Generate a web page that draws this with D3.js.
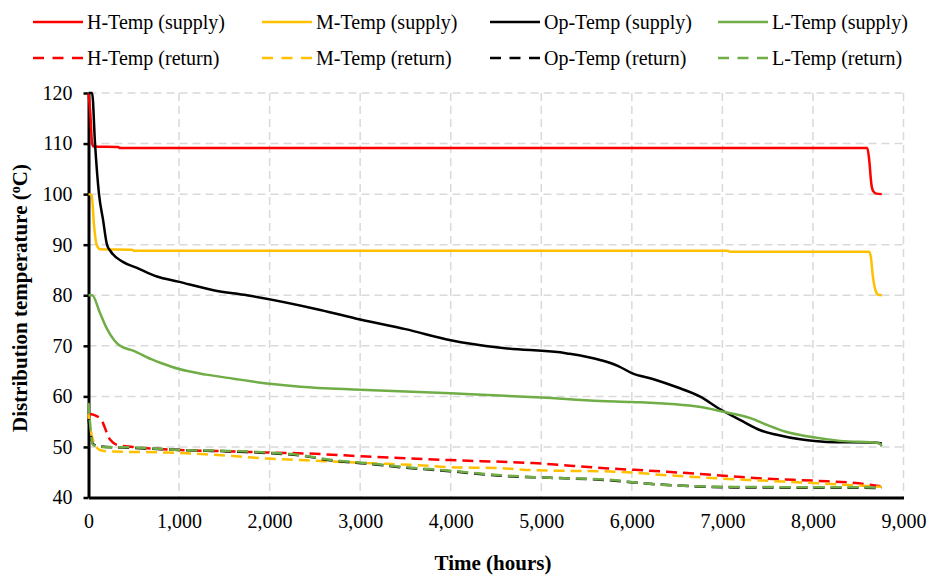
<!DOCTYPE html>
<html>
<head>
<meta charset="utf-8">
<script src="https://cdn.jsdelivr.net/npm/d3@7"></script>
<style>
	body { margin: 0; background: #fff; }
	svg { display: block; font-family: "Liberation Serif", "Times New Roman", serif; }
</style>
</head>
<body>
<svg id="chart" width="931" height="576"></svg>
<script>
// series data: [hours, temperature]
var hTempSupply = [[0,120],[20,116],[40,110],[60,109.4],[330,109.3],[345,109.1],[8600,109.1],[8620,107],[8645,102],[8665,100.6],[8700,100.1],[8760,100]];
var mTempSupply = [[0,100],[35,99.8],[60,94],[90,90],[130,89.1],[480,89.0],[500,88.8],[7060,88.8],[7080,88.6],[8620,88.6],[8640,87.5],[8660,84],[8690,81],[8720,80.1],[8760,80]];
var opTempSupply = [[0,120],[40,120],[72,110],[116,100],[160,95],[204,90],[240,88.8],[380,86.6],[535,85.4],[755,83.7],[990,82.7],[1380,81.0],[1750,80],[2560,77.1],[3000,75.2],[3500,73.3],[4000,71.1],[4550,69.6],[5285,68.5],[5650,67.2],[5850,66],[6000,64.6],[6240,63.4],[6500,61.8],[6760,59.9],[6960,57.6],[7200,55.3],[7420,53.3],[7600,52.4],[7860,51.5],[8150,51.0],[8670,50.9],[8760,50.7]];
var lTempSupply = [[0,80],[40,80],[127,76.5],[200,73.5],[280,71.2],[340,70.1],[500,69],[700,67.3],[800,66.6],[1000,65.4],[1300,64.3],[1600,63.5],[2000,62.5],[2340,61.9],[3000,61.3],[4000,60.6],[5000,59.8],[5650,59.1],[6000,58.9],[6760,57.9],[7000,57.0],[7310,55.7],[7500,54.3],[7700,53.0],[7970,52.0],[8300,51.2],[8720,50.8],[8740,50.6],[8760,50.1]];
var hTempReturn = [[0,56.6],[127,55.7],[240,51.4],[315,50.4],[490,50.0],[1010,49.4],[1600,49.1],[1970,48.9],[2410,48.7],[3075,48.1],[3990,47.4],[4910,46.8],[5700,45.8],[6390,45.1],[7010,44.3],[7500,43.7],[8050,43.3],[8500,42.8],[8760,42.2]];
var mTempReturn = [[0,56.5],[40,52],[127,49.4],[240,49.1],[860,48.9],[1600,48.2],[1970,47.7],[2340,47.4],[2700,47.1],[3075,46.8],[3630,46.4],[3990,46.0],[4550,45.8],[4910,45.4],[5840,45.1],[6390,44.4],[6940,43.8],[7500,43.3],[8050,42.8],[8760,42.1]];
var opTempReturn = [[0,55.5],[50,50.6],[127,50.1],[490,49.8],[1010,49.4],[1600,49.1],[1970,48.8],[2340,48.3],[2700,47.3],[3075,46.7],[3440,46.0],[3990,45.2],[4550,44.3],[5100,43.9],[5760,43.4],[6130,42.8],[6570,42.3],[7120,42.0],[8760,41.9]];
var lTempReturn = [[0,58.7],[50,50.4],[127,50.0],[490,49.9],[1010,49.4],[1600,49.2],[1970,48.9],[2340,48.4],[2700,47.4],[3075,46.8],[3440,46.1],[3990,45.3],[4550,44.4],[5100,43.9],[5760,43.5],[6130,42.8],[6570,42.3],[7120,42.1],[8760,42.0]];

var seriesNames = ["H-Temp (supply)", "M-Temp (supply)", "Op-Temp (supply)", "L-Temp (supply)",
	"H-Temp (return)", "M-Temp (return)", "Op-Temp (return)", "L-Temp (return)"];
var seriesData = [hTempSupply, mTempSupply, opTempSupply, lTempSupply,
	hTempReturn, mTempReturn, opTempReturn, lTempReturn];

var xTicks = [0, 1000, 2000, 3000, 4000, 5000, 6000, 7000, 8000, 9000];
var yTicks = [40, 50, 60, 70, 80, 90, 100, 110, 120];

var colors = ["#ff0000", "#ffc000", "#000000", "#70ad47"];

var svg = d3.select("#chart");

var x = d3.scaleLinear().domain([0, 9000]).range([88.5, 903.5]);
var y = d3.scaleLinear().domain([40, 120]).range([497.5, 93]);

// grid
var grid = svg.append("g")
	.attr("stroke", "#d9d9d9")
	.attr("stroke-width", 1.5)
	.attr("stroke-dasharray", "8,5");

grid.selectAll(".vgrid")
	.data(xTicks.slice(1))
	.enter().append("line")
	.attr("x1", d => x(d)).attr("x2", d => x(d))
	.attr("y1", y(120)).attr("y2", y(40));

grid.selectAll(".hgrid")
	.data(yTicks.slice(1))
	.enter().append("line")
	.attr("x1", x(0)).attr("x2", x(9000))
	.attr("y1", d => y(d)).attr("y2", d => y(d));

// axes
var xAxis = d3.axisBottom(x)
	.tickValues(xTicks)
	.tickFormat(d3.format(","))
	.tickSize(0)
	.tickPadding(16);

var yAxis = d3.axisLeft(y)
	.tickValues(yTicks)
	.tickSizeInner(5)
	.tickSizeOuter(0)
	.tickPadding(11);

var gy = svg.append("g")
	.attr("transform", "translate(" + x(0) + ",0)")
	.call(yAxis);

var gx = svg.append("g")
	.attr("transform", "translate(0," + y(40) + ")")
	.call(xAxis);

[gx, gy].forEach(function(g) {
	g.select(".domain").attr("stroke", "#000").attr("stroke-width", 3);
	g.selectAll(".tick line").attr("stroke", "#000").attr("stroke-width", 2.5);
	g.selectAll("text")
		.attr("font-family", "Liberation Serif, Times New Roman, serif")
		.attr("font-size", 20)
		.attr("fill", "#000");
});

// lines
var line = d3.line()
	.x(d => x(d[0]))
	.y(d => y(d[1]))
	.curve(d3.curveMonotoneX);

seriesData.forEach(function(data, i) {
	svg.append("path")
		.datum(data)
		.attr("fill", "none")
		.attr("stroke", colors[i % 4])
		.attr("stroke-width", 2.5)
		.attr("stroke-dasharray", i < 4 ? null : "11,6")
		.attr("stroke-linejoin", "round")
		.attr("d", line);
});

// axis titles
svg.append("text")
	.attr("x", 493)
	.attr("y", 570)
	.attr("text-anchor", "middle")
	.attr("font-weight", "bold")
	.attr("font-size", 21)
	.text("Time (hours)");

var yTitle = svg.append("text")
	.attr("transform", "translate(27,298) rotate(-90)")
	.attr("text-anchor", "middle")
	.attr("font-weight", "bold")
	.attr("font-size", 21);
yTitle.append("tspan").text("Distribution temperature (");
yTitle.append("tspan").attr("font-size", 14).attr("dy", -7).text("o");
yTitle.append("tspan").attr("dy", 7).text("C)");

// legend
var legendX = [33, 262, 490, 718];
var legendY = [22, 58];

var legend = svg.selectAll(".legend")
	.data(seriesNames)
	.enter().append("g")
	.attr("transform", (d, i) => "translate(" + legendX[i % 4] + "," + legendY[Math.floor(i / 4)] + ")");

legend.append("line")
	.attr("x1", 0).attr("x2", 50)
	.attr("stroke", (d, i) => colors[i % 4])
	.attr("stroke-width", 2.5)
	.attr("stroke-dasharray", (d, i) => i < 4 ? null : "11,8.5");

legend.append("text")
	.attr("x", 54)
	.attr("dy", "0.35em")
	.attr("font-size", 20)
	.text(d => d);
</script>
</body>
</html>
